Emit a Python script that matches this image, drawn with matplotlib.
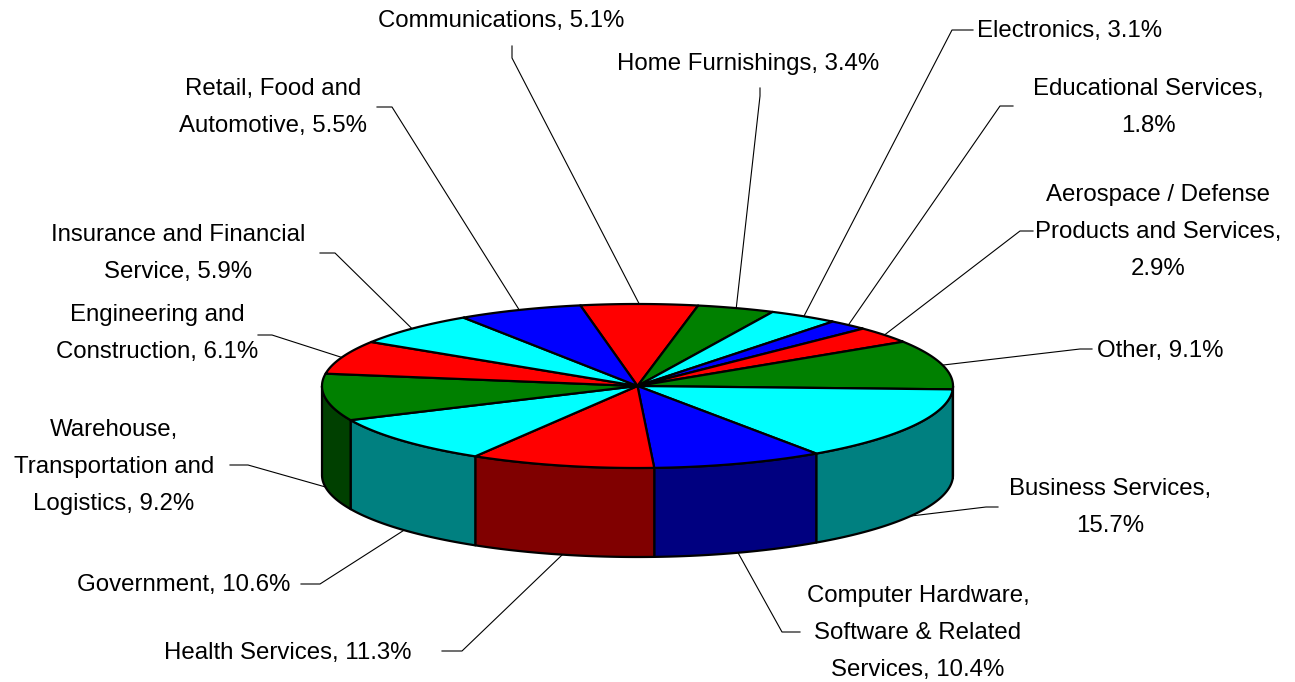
import numpy as np
import matplotlib.pyplot as plt
from matplotlib.patches import Polygon

# industry shares, clockwise from the top of the pie
sectors = ["Communications", "Home Furnishings", "Electronics", "Educational Services",
           "Aerospace / Defense\nProducts and Services", "Other", "Business Services",
           "Computer Hardware,\nSoftware & Related\nServices", "Health Services", "Government",
           "Warehouse,\nTransportation and\nLogistics", "Engineering and\nConstruction",
           "Insurance and Financial\nService", "Retail, Food and\nAutomotive"]
shares = [5.1, 3.4, 3.1, 1.8, 2.9, 9.1, 15.7, 10.4, 11.3, 10.6, 9.2, 6.1, 5.9, 5.5]
pct_new_line = [False, False, False, True, True, False, True,
                False, False, False, False, False, False, False]
top_colors = ["#FF0000", "#008000", "#00FFFF", "#0000FF", "#FF0000", "#008000", "#00FFFF",
              "#0000FF", "#FF0000", "#00FFFF", "#008000", "#FF0000", "#00FFFF", "#0000FF"]
side_of = {"#FF0000": "#800000", "#008000": "#004000", "#00FFFF": "#008080", "#0000FF": "#000080"}

# label layout: centre x, first baseline, leader stub (label end, elbow)
label_x = [501, 748, 1070, 1148, 1158, 1160, 1110, 918, 288, 184, 114, 157, 178, 273]
label_y = [27, 70, 37, 95, 201, 357, 495, 602, 659, 591, 436, 321, 241, 95]
stubs = [((512, 46), (512, 58)), ((760, 88), (760, 96)), ((973, 30), (952, 30)),
         ((1013, 106), (1000, 106)), ((1033, 231), (1020, 231)), ((1092, 349), (1080, 349)),
         ((998, 507), (986, 507)), ((800, 632), (782, 632)), ((442, 651), (462, 651)),
         ((301, 584), (320, 584)), ((230, 465), (248, 465)), ((258, 335), (272, 335)),
         ((320, 253), (335, 253)), ((377, 107), (392, 107))]

# pie geometry in pixels (3d look of the original)
CX, CY, RX, RY, DEPTH = 637.5, 386, 315.5, 82, 89
OFFSET, SKEW = -8.9, 10.0
LINE_GAP = 37


def screen_angle(deg):
    a = np.asarray(deg, dtype=float) + OFFSET
    return a + SKEW * np.sin(np.radians(a))


def rim(t, drop=0.0):
    r = np.radians(t)
    return CX + RX * np.sin(r), CY - RY * np.cos(r) + drop


plt.rcParams['font.family'] = ['Liberation Sans', 'DejaVu Sans']
fig = plt.figure(figsize=(12.95, 6.82), dpi=100)
ax = fig.add_axes([0, 0, 1, 1])
ax.set_xlim(0, 1295)
ax.set_ylim(682, 0)
ax.axis('off')

vals = np.array(shares)
edges = np.concatenate([[0], np.cumsum(vals)]) / vals.sum() * 360

# side walls (front half only)
for i in range(len(vals)):
    t1, t2 = screen_angle(edges[i]), screen_angle(edges[i + 1])
    lo, hi = max(t1, 90), min(t2, 270)
    if lo >= hi:
        continue
    ts = np.linspace(lo, hi, 80)
    xt, yt = rim(ts)
    xb, yb = rim(ts[::-1], DEPTH)
    pts = np.column_stack([np.concatenate([xt, xb]), np.concatenate([yt, yb])])
    ax.add_patch(Polygon(pts, closed=True, facecolor=side_of[top_colors[i]],
                         edgecolor='black', lw=1.6, joinstyle='round', zorder=2))

# top faces
for i in range(len(vals)):
    ts = np.linspace(screen_angle(edges[i]), screen_angle(edges[i + 1]), 120)
    xt, yt = rim(ts)
    pts = np.column_stack([np.concatenate([[CX], xt]), np.concatenate([[CY], yt])])
    ax.add_patch(Polygon(pts, closed=True, facecolor=top_colors[i],
                         edgecolor='black', lw=1.6, joinstyle='round', zorder=3))

# labels and leader lines
for i, name in enumerate(sectors):
    sep = ",\n" if pct_new_line[i] else ", "
    lines = f"{name}{sep}{shares[i]}%".split("\n")
    for k, line in enumerate(lines):
        ax.text(label_x[i], label_y[i] + k * LINE_GAP, line, fontsize=17.3,
                ha='center', va='baseline', color='black')

    mid = screen_angle((edges[i] + edges[i + 1]) / 2)
    drop = DEPTH if np.cos(np.radians(mid)) < 0 else 0
    ax_, ay_ = rim(mid, drop)
    (x0, y0), (x1, y1) = stubs[i]
    ax.plot([x0, x1, ax_], [y0, y1, ay_], color='black', lw=0.8, zorder=1)

fig.savefig("out.png", dpi=100)
